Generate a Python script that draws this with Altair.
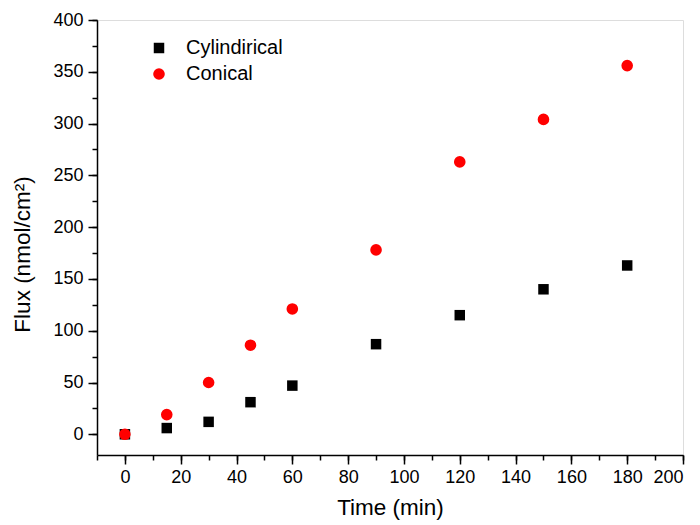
import altair as alt
import pandas as pd

time = [0, 15, 30, 45, 60, 90, 120, 150, 180]
cylindrical = [0, 6, 12, 31, 47, 87, 115, 140, 163]
conical = [0, 19, 50, 86, 121, 178, 263, 304, 356]
series_names = ["Cylindirical", "Conical"]
x_major = list(range(0, 201, 20))
x_minor = list(range(-10, 201, 10))
y_major = list(range(0, 401, 50))
y_minor = list(range(-25, 401, 25))

rows = []
for t, v in zip(time, cylindrical):
    rows.append({"time": t, "flux": v, "series": series_names[0]})
for t, v in zip(time, conical):
    rows.append({"time": t, "flux": v, "series": series_names[1]})
df = pd.DataFrame(rows)

font = "Liberation Sans"
xs = alt.Scale(domain=[-10, 200], nice=False, zero=False)
ys = alt.Scale(domain=[-20, 400], nice=False, zero=False)

points = alt.Chart(df).mark_point(filled=True, opacity=1).encode(
    x=alt.X("time:Q", scale=xs, axis=alt.Axis(
        values=x_major, title="Time (min)", orient="bottom", grid=False,
        tickSize=9, tickColor="black", domainColor="black", tickWidth=1.5, domainWidth=1.5,
        labelFontSize=18, labelFont=font, labelColor="black", labelPadding=4,
        titleFontSize=22.5, titleFont=font, titleFontWeight="normal", titleColor="black", titlePadding=10)),
    y=alt.Y("flux:Q", scale=ys, axis=alt.Axis(
        values=y_major, title="Flux (nmol/cm²)", orient="left", grid=False,
        tickSize=9, tickColor="black", domainColor="black", tickWidth=1.5, domainWidth=1.5,
        labelFontSize=18, labelFont=font, labelColor="black", labelPadding=5,
        titleFontSize=22.5, titleFont=font, titleFontWeight="normal", titleColor="black", titlePadding=18,
        titleY=234)),
    color=alt.Color("series:N", scale=alt.Scale(domain=series_names, range=["black", "red"]),
                    legend=alt.Legend(title=None, orient="none", legendX=52, legendY=18,
                                      labelFontSize=20, labelFont=font, labelColor="black",
                                      symbolSize=115, rowPadding=6, labelOffset=17, symbolStrokeWidth=0)),
    shape=alt.Shape("series:N", scale=alt.Scale(domain=series_names, range=["square", "circle"]), legend=None),
    size=alt.Size("series:N", scale=alt.Scale(domain=series_names, range=[110, 135]), legend=None),
)

minor = alt.Chart(df).mark_point(opacity=0).encode(
    x=alt.X("time:Q", scale=xs, axis=alt.Axis(
        values=x_minor, labels=False, title=None, orient="bottom", grid=False, domain=False,
        tickSize=5, tickColor="black", tickWidth=1.5)),
    y=alt.Y("flux:Q", scale=ys, axis=alt.Axis(
        values=y_minor, labels=False, title=None, orient="left", grid=False, domain=False,
        tickSize=5, tickColor="black", tickWidth=1.5)),
)

chart = alt.layer(points, minor).resolve_axis(x="independent", y="independent").properties(
    width=586, height=435,
    autosize=alt.AutoSizeParams(type="none"),
    padding={"left": 89, "top": 12, "right": 9, "bottom": 70},
).configure_view(stroke=None).configure(background="white")

chart.save("out.html", embed_options={"renderer": "svg", "actions": False})
